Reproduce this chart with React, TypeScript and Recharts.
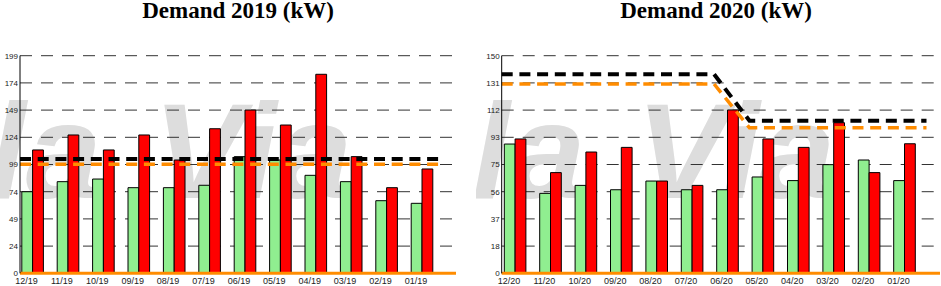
import React from 'react';
import { ComposedChart, Bar, Line, XAxis, YAxis, CartesianGrid } from 'recharts';

// ---------- data ----------
const months2019 = ['12/19', '11/19', '10/19', '09/19', '08/19', '07/19', '06/19', '05/19', '04/19', '03/19', '02/19', '01/19'];
const green2019 = [74.6, 83.8, 86.2, 78.3, 78.3, 80.5, 106.7, 103.6, 89.6, 83.8, 66.4, 64.0];
const red2019 = [112.8, 126.5, 112.8, 126.5, 103.6, 132.2, 149.3, 135.6, 182.0, 106.7, 78.3, 95.4];
const black2019 = [104.5, 104.5, 104.5, 104.5, 104.5, 104.5, 104.5, 104.5, 104.5, 104.5, 104.5, 104.5, 104.5];
const orange2019 = [99.7, 99.7, 99.7, 99.7, 99.7, 99.7, 99.7, 99.7, 99.7, 99.7, 99.7, 99.7, 99.7];
const yLabels2019 = ['0', '24', '49', '74', '99', '124', '149', '174', '199'];
const yMax2019 = 199;

const months2020 = ['12/20', '11/20', '10/20', '09/20', '08/20', '07/20', '06/20', '05/20', '04/20', '03/20', '02/20', '01/20'];
const green2020 = [89.1, 55.1, 60.6, 57.6, 63.6, 57.6, 57.6, 66.4, 63.9, 74.9, 78.1, 63.9];
const red2020 = [92.6, 69.4, 83.6, 86.8, 63.6, 60.6, 112.6, 92.6, 86.8, 103.8, 69.4, 89.3];
const black2020 = [137.2, 137.2, 137.2, 137.2, 137.2, 137.2, 137.2, 105.2, 105.2, 105.2, 105.2, 105.2, 105.2];
const orange2020 = [130.5, 130.5, 130.5, 130.5, 130.5, 130.5, 130.5, 100.3, 100.3, 100.3, 100.3, 100.3, 100.3];
const yLabels2020 = ['0', '18', '37', '56', '75', '93', '112', '131', '150'];
const yMax2020 = 150;

// boundaries between month groups where the limit lines bend
const steps = [0, 1, 2, 3, 4, 5, 6, 7, 8, 9, 10, 11, 12];

const titles = ['Demand 2019 (kW)', 'Demand 2020 (kW)'];
const watermarkWords = ['la', 'Via'];

type PanelProps = {
  months: string[];
  green: number[];
  red: number[];
  black: number[];
  orange: number[];
  yLabels: string[];
  yMax: number;
  width: number;
  yAxisWidth: number;
  marginRight: number;
  padLeft: number;
  padRight: number;
  linePadRight: number;
};

function Panel(p: PanelProps) {
  const rows = p.months.map((m, i) => ({ month: m, used: p.green[i], peak: p.red[i] }));
  const lineRows = steps.map((k, i) => ({ k, cap: p.black[i], contract: p.orange[i] }));
  const ticks = p.yLabels.map((_, i) => (i * p.yMax) / (p.yLabels.length - 1));
  return (
    <ComposedChart
      width={p.width}
      height={286}
      data={rows}
      margin={{ top: 55.7, right: p.marginRight, bottom: 0, left: 0 }}
      barGap={0}
    >
      <CartesianGrid horizontal vertical={false} stroke="#333" strokeDasharray="12 9" />
      <XAxis
        dataKey="month"
        type="category"
        interval={0}
        height={12.7}
        padding={{ left: p.padLeft, right: p.padRight }}
        tickLine={false}
        tickSize={0}
        tickMargin={4}
        axisLine={{ stroke: '#FF8C00', strokeWidth: 3 }}
        tick={{ fontSize: 9, fill: '#222', fontFamily: 'Liberation Sans, Arial, sans-serif', dx: -6 }}
      />
      <XAxis
        xAxisId="steps"
        dataKey="k"
        type="number"
        domain={[0, 12]}
        hide
        padding={{ left: 0, right: p.linePadRight }}
      />
      <YAxis
        width={p.yAxisWidth}
        domain={[0, p.yMax]}
        ticks={ticks}
        interval={0}
        tickFormatter={(_v: number, i: number) => p.yLabels[i]}
        axisLine={{ stroke: '#000', strokeWidth: 1 }}
        tickLine={false}
        tickSize={0}
        tickMargin={2}
        tick={{ fontSize: 8, fill: '#222', fontFamily: 'Liberation Sans, Arial, sans-serif' }}
      />
      <Bar dataKey="used" fill="#90EE90" stroke="#000" strokeWidth={1} barSize={10.8} isAnimationActive={false} />
      <Bar dataKey="peak" fill="#FF0000" stroke="#000" strokeWidth={1} barSize={10.8} isAnimationActive={false} />
      <Line
        xAxisId="steps"
        data={lineRows}
        dataKey="cap"
        type="linear"
        stroke="#000"
        strokeWidth={4}
        strokeDasharray="11 6.7"
        dot={false}
        activeDot={false}
        isAnimationActive={false}
      />
      <Line
        xAxisId="steps"
        data={lineRows}
        dataKey="contract"
        type="linear"
        stroke="#FF8C00"
        strokeWidth={3.5}
        strokeDasharray="11 6.7"
        dot={false}
        activeDot={false}
        isAnimationActive={false}
      />
    </ComposedChart>
  );
}

function Watermark({ laX, viaX }: { laX: number; viaX: number }) {
  const style = {
    fontFamily: 'Liberation Sans, Arial, sans-serif',
    fontWeight: 700,
    fontStyle: 'italic' as const,
    fontSize: 136,
  };
  return (
    <g fill="#dddddd">
      <text x={laX} y={198} style={style}>{watermarkWords[0]}</text>
      <text x={viaX} y={198} style={style}>{watermarkWords[1]}</text>
    </g>
  );
}

const titleFont = 'Liberation Serif, Times New Roman, serif';

export default function App() {
  return (
    <div style={{ position: 'absolute', left: 0, top: 0, width: 941, height: 286, background: '#fff', overflow: 'hidden' }}>
      <svg width={941} height={286} style={{ position: 'absolute', left: 0, top: 0 }}>
        <defs>
          <clipPath id="clipLeft"><rect x={0} y={0} width={470} height={286} /></clipPath>
          <clipPath id="clipRight"><rect x={476} y={0} width={465} height={286} /></clipPath>
        </defs>
        <g clipPath="url(#clipLeft)"><Watermark laX={-12} viaX={153} /></g>
        <g clipPath="url(#clipRight)"><Watermark laX={472} viaX={636} /></g>
        <text x={238} y={17.5} textAnchor="middle" fontFamily={titleFont} fontWeight={700} fontSize={23} fill="#000">
          {titles[0]}
        </text>
        <text x={716} y={17.5} textAnchor="middle" fontFamily={titleFont} fontWeight={700} fontSize={23} fill="#000">
          {titles[1]}
        </text>
      </svg>
      <div style={{ position: 'absolute', left: 0, top: 0 }}>
        <Panel
          months={months2019}
          green={green2019}
          red={red2019}
          black={black2019}
          orange={orange2019}
          yLabels={yLabels2019}
          yMax={yMax2019}
          width={470}
          yAxisWidth={20}
          marginRight={14}
          padLeft={-5.2}
          padRight={16.4}
          linePadRight={11.2}
        />
      </div>
      <div style={{ position: 'absolute', left: 470, top: 0 }}>
        <Panel
          months={months2020}
          green={green2020}
          red={red2020}
          black={black2020}
          orange={orange2020}
          yLabels={yLabels2020}
          yMax={yMax2020}
          width={471}
          yAxisWidth={31.7}
          marginRight={1}
          padLeft={-4.4}
          padRight={17.9}
          linePadRight={13.5}
        />
      </div>
    </div>
  );
}
